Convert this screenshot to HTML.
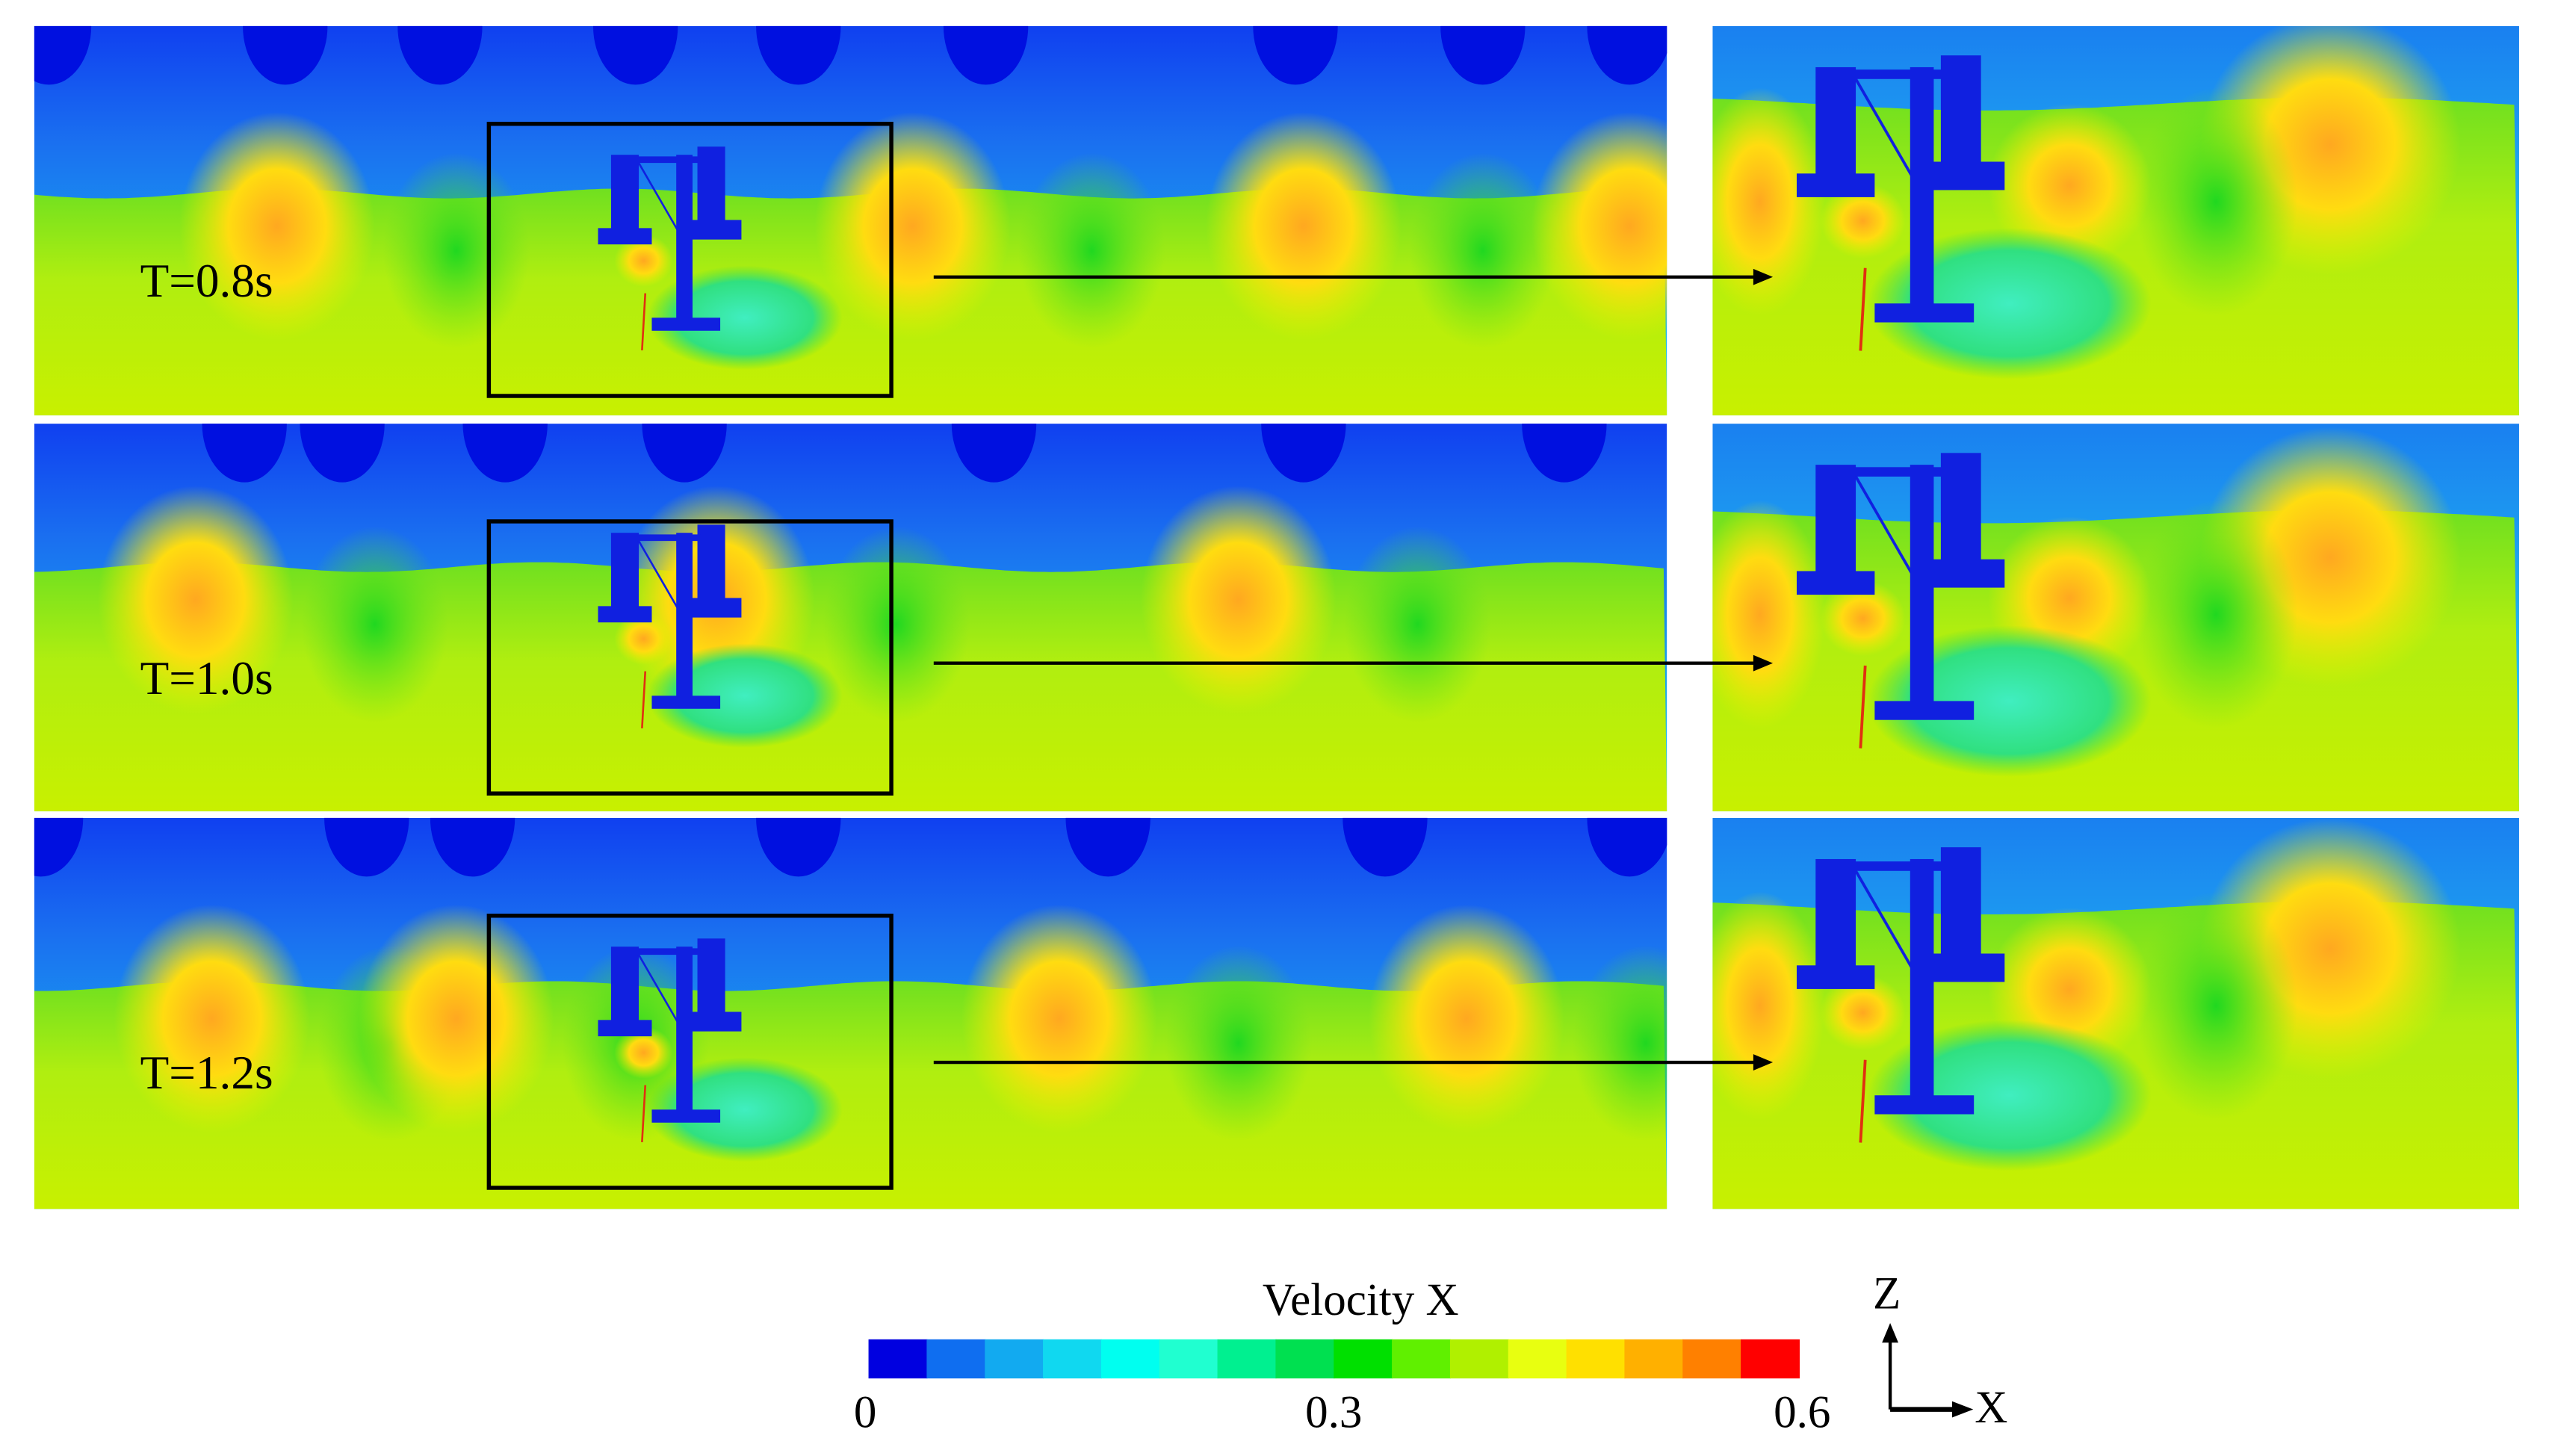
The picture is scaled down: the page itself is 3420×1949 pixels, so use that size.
<!DOCTYPE html>
<html><head><meta charset="utf-8"><style>
html,body{margin:0;padding:0;background:#fff;}
svg{display:block;}
text{font-family:"Liberation Serif",serif;fill:#000;}
</style></head><body>
<svg id="fig" width="3420" height="1949" viewBox="0 0 1568 893.6" xmlns="http://www.w3.org/2000/svg">
<defs>
<linearGradient id="skyL" x1="0" y1="0" x2="0" y2="1">
<stop offset="0" stop-color="#1040f0"/><stop offset="0.3" stop-color="#1a70f0"/><stop offset="0.7" stop-color="#18a8ee"/><stop offset="1" stop-color="#20d8ea"/></linearGradient>
<linearGradient id="skyR" x1="0" y1="0" x2="0" y2="1">
<stop offset="0" stop-color="#1a80f0"/><stop offset="0.6" stop-color="#20b8f0"/><stop offset="1" stop-color="#30e0e8"/></linearGradient>
<linearGradient id="waterL" x1="0" y1="0" x2="0" y2="1">
<stop offset="0" stop-color="#70e020"/><stop offset="0.4" stop-color="#b0ee10"/><stop offset="1" stop-color="#c8f000"/></linearGradient>
<radialGradient id="hot"><stop offset="0" stop-color="#ffa820"/><stop offset="0.5" stop-color="#ffdc10"/><stop offset="1" stop-color="#e8f000" stop-opacity="0"/></radialGradient>
<radialGradient id="cool"><stop offset="0" stop-color="#20d820"/><stop offset="1" stop-color="#60e020" stop-opacity="0"/></radialGradient>
<radialGradient id="wake"><stop offset="0" stop-color="#40eec0"/><stop offset="0.7" stop-color="#30e080"/><stop offset="1" stop-color="#40e040" stop-opacity="0"/></radialGradient>
<clipPath id="cl0"><rect x="21" y="16" width="1002" height="239"/></clipPath>
<clipPath id="cl1"><rect x="21" y="260" width="1002" height="238"/></clipPath>
<clipPath id="cl2"><rect x="21" y="502" width="1002" height="240"/></clipPath>
<clipPath id="cr0"><rect x="1051" y="16" width="495" height="239"/></clipPath>
<clipPath id="cr1"><rect x="1051" y="260" width="495" height="238"/></clipPath>
<clipPath id="cr2"><rect x="1051" y="502" width="495" height="240"/></clipPath>
</defs>
<g id="panels"></g>
<g id="arrows"></g>
<g id="colorbar"></g>
<text x="835" y="807" font-size="28" text-anchor="middle">Velocity X</text>
<g>
<line x1="1160" y1="865" x2="1160" y2="822" stroke="#000" stroke-width="2"/>
<polygon points="1155,824 1160,812 1165,824" fill="#000"/>
<line x1="1160" y1="865" x2="1200" y2="865" stroke="#000" stroke-width="3"/>
<polygon points="1198,860 1211,865 1198,870" fill="#000"/>
<text x="1158" y="803" font-size="28" text-anchor="middle">Z</text>
<text x="1222" y="873" font-size="28" text-anchor="middle">X</text>
</g>
</svg>
<script>
const NS='http://www.w3.org/2000/svg';
const times=['T=0.8s','T=1.0s','T=1.2s'];
const panelTops=[16,260,502];
const panelHeights=[239,238,240];
const surfaceLeft=[0.43,0.37,0.43];
const surfaceRight=[0.2,0.24,0.23];
const lobesLeft=[[30,175,270,390,490,605,795,910,1000],[150,210,310,420,610,800,960],[25,225,290,490,680,850,1000]];
const hotLeft=[[170,560,800,1000],[120,440,760],[130,280,650,900]];
const cbColors=['#0000e0','#0f6ef0','#12aaf0','#10d8f0','#00fff0','#20ffd0','#00f090','#00e050','#00e000','#60f000','#b0f000','#e8ff10','#ffe000','#ffb000','#ff8000','#ff0000'];
const cbTicks=['0','0.3','0.6'];
const cbTickVals=[0,0.3,0.6];
const cbMin=0,cbMax=0.6;
function el(tag,attrs,parent){const e=document.createElementNS(NS,tag);for(const k in attrs)e.setAttribute(k,attrs[k]);(parent||document.getElementById('panels')).appendChild(e);return e;}
function surfacePath(x0,w,ys,amp,period,phase,bottom){let d='M'+x0+','+bottom+' L'+x0+','+ys;for(let x=x0;x<=x0+w;x+=4){d+=' L'+x+','+(ys-amp*Math.cos((x-phase)/period*2*Math.PI)).toFixed(1);}d+=' L'+(x0+w)+','+bottom+' Z';return d;}
function structure(g,cx,ty,s){
 const c='#1020e0';
 el('ellipse',{cx:cx+47*s,cy:ty+105*s,rx:60*s,ry:32*s,fill:'url(#wake)'},g);
 el('ellipse',{cx:cx-15*s,cy:ty+70*s,rx:18*s,ry:16*s,fill:'url(#hot)'},g);
 el('rect',{x:cx-35*s,y:ty+5*s,width:17*s,height:50*s,fill:c},g);
 el('rect',{x:cx+18*s,y:ty,width:17*s,height:50*s,fill:c},g);
 el('rect',{x:cx-43*s,y:ty+50*s,width:33*s,height:10*s,fill:c},g);
 el('rect',{x:cx+10*s,y:ty+45*s,width:35*s,height:12*s,fill:c},g);
 el('rect',{x:cx-20*s,y:ty+6*s,width:40*s,height:4*s,fill:c},g);
 el('line',{x1:cx-18*s,y1:ty+10*s,x2:cx+8*s,y2:ty+55*s,stroke:c,'stroke-width':1.2*s},g);
 el('rect',{x:cx+5*s,y:ty+5*s,width:10*s,height:105*s,fill:c},g);
 el('rect',{x:cx-10*s,y:ty+105*s,width:42*s,height:8*s,fill:c},g);
 el('line',{x1:cx-14*s,y1:ty+90*s,x2:cx-16*s,y2:ty+125*s,stroke:'#e03010','stroke-width':1.2*s},g);
}
for(let i=0;i<3;i++){
 const top=panelTops[i],h=panelHeights[i];
 const gl=el('g',{'clip-path':'url(#cl'+i+')'});
 
 
 el('rect',{x:21,y:top,width:1002,height:h,fill:'url(#skyL)'},gl);
 lobesLeft[i].forEach(x=>{el('ellipse',{cx:x,cy:top,rx:26,ry:36,fill:'#0010e0'},gl);});
 const ys=top+h*surfaceLeft[i];
 el('path',{d:surfacePath(21,1002,ys,3,210,hotLeft[i][0],top+h),fill:'url(#waterL)'},gl);
 hotLeft[i].forEach(x=>{el('ellipse',{cx:x,cy:ys+20,rx:60,ry:70,fill:'url(#hot)'},gl);el('ellipse',{cx:x+110,cy:ys+35,rx:45,ry:60,fill:'url(#cool)'},gl);});
 structure(gl,410,top+(i==1?62:74),1);
 el('rect',{x:300,y:top+60,width:247,height:167,fill:'none',stroke:'#000','stroke-width':2.5},gl);
 const t=el('text',{x:86,y:top+166,'font-size':29});
 t.textContent=times[i];
 
 
 const gr=el('g',{'clip-path':'url(#cr'+i+')'});
 
 
 el('rect',{x:1051,y:top,width:495,height:h,fill:'url(#skyR)'},gr);
 const yr=top+h*surfaceRight[i];
 el('path',{d:surfacePath(1051,495,yr,4,420,1430,top+h),fill:'url(#waterL)'},gr);
 el('ellipse',{cx:1430,cy:yr+25,rx:80,ry:80,fill:'url(#hot)'},gr);
 el('ellipse',{cx:1360,cy:yr+60,rx:50,ry:70,fill:'url(#cool)'},gr);
 el('ellipse',{cx:1270,cy:yr+50,rx:50,ry:50,fill:'url(#hot)'},gr);
 el('ellipse',{cx:1080,cy:yr+60,rx:40,ry:70,fill:'url(#hot)'},gr);
 structure(gr,1165,top+18,1.45);
}
const ar=document.getElementById('arrows');
const arrowYs=[170,407,652];
arrowYs.forEach((ay,i)=>{
 const a=el('g',{},ar);
 
 
 el('line',{x1:573,y1:ay,x2:1078,y2:ay,stroke:'#000','stroke-width':2},a);
 el('polygon',{points:'1076,'+(ay-5)+' 1088,'+ay+' 1076,'+(ay+5),fill:'#000'},a);
});
const cb=document.getElementById('colorbar');
const cbX0=533,cbX1=1104,cbY=822,cbH=24;
const xs=v=>cbX0+(v-cbMin)/(cbMax-cbMin)*(cbX1-cbX0);
const n=cbColors.length;
cbColors.forEach((c,k)=>{
 const r=el('rect',{x:xs(cbMin+k*(cbMax-cbMin)/n),y:cbY,width:(cbX1-cbX0)/n+0.5,height:cbH,fill:c},cb);
 
 
});
cbTicks.forEach((t,k)=>{
 const tx=el('text',{x:xs(cbTickVals[k])+(k==0?-2:(k==2?2:0)),y:876,'font-size':28,'text-anchor':'middle'},cb);
 tx.textContent=t;
 
 
});
</script>
</body></html>
